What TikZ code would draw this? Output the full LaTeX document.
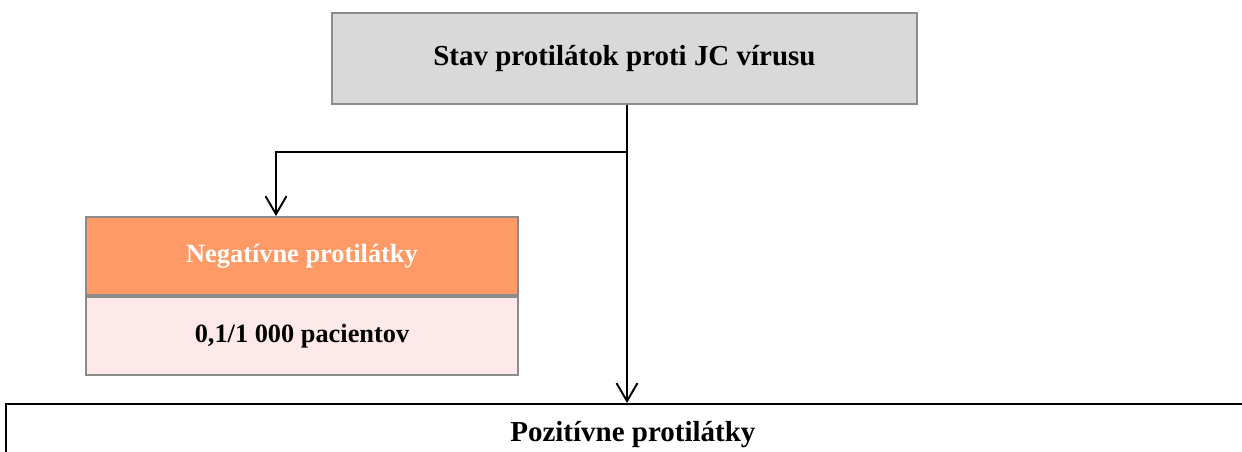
\documentclass[tikz,border=0pt]{standalone}
\usepackage{fontspec}
\setmainfont{Liberation Serif}
\usepackage{xcolor}
\usetikzlibrary{arrows.meta,positioning}

\definecolor{boxgray}{HTML}{D9D9D9}
\definecolor{framegray}{HTML}{8C8C8C}
\definecolor{negorange}{HTML}{FF9966}
\definecolor{negpink}{HTML}{FDE9E9}

\tikzset{
  box/.style={shape=rectangle,draw=framegray,line width=1.1pt,inner sep=0pt,align=center,font=\bfseries},
  topbox/.style={box,fill=boxgray,minimum width=11.7cm,minimum height=1.82cm,font=\fontsize{16.5}{20}\selectfont\bfseries},
  headbox/.style={box,fill=negorange,text=white,minimum width=8.64cm,minimum height=1.56cm,font=\fontsize{15}{18}\selectfont\bfseries},
  cellbox/.style={box,fill=negpink,minimum width=8.64cm,minimum height=1.56cm,font=\fontsize{15}{18}\selectfont\bfseries},
  posbox/.style={box,draw=black,minimum width=25.08cm,minimum height=1.22cm,font=\fontsize{16.5}{20}\selectfont\bfseries},
  link/.style={draw=black,line width=1.1pt,-{Straight Barb[length=0.36cm,width=0.42cm,line width=1.1pt]}}
}

\begin{document}
\begin{tikzpicture}[x=0.02cm,y=-0.02cm]
  \useasboundingbox (0,0) rectangle (1242,452);
  \clip (0,0) rectangle (1242,452);

  % boxes
  \node[topbox] (stav) at (624.5,58.5) {Stav protilátok proti JC vírusu};
  \node[headbox] (neg) at (302,256) {Negatívne protilátky};
  \node[cellbox,below=0pt of neg] (negval) {0,1/1 000 pacientov};
  \node[posbox,anchor=north west] (poz) at (5,403) {Pozitívne protilátky};

  % connectors
  \coordinate (split) at (627,152);
  \coordinate (turn) at (276,152);
  \path[link] (stav.south -| split) -- (split |- poz.north);
  \path[link] (split) -- (turn) -- (turn |- neg.north);
\end{tikzpicture}
\end{document}
